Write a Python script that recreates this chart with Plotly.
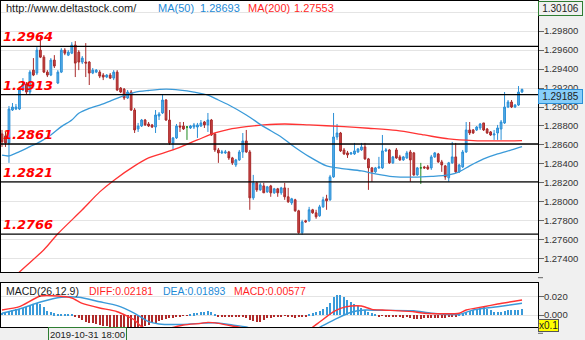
import plotly.graph_objects as go

# ---------------- hourly candles ----------------
opens = [
    1.28716, 1.28695, 1.28621, 1.28968, 1.28979, 1.28979, 1.29179, 1.29242, 1.29158, 1.29389,
    1.29358, 1.29600, 1.29526, 1.29368, 1.29337, 1.29495, 1.29253, 1.29368, 1.29600, 1.29547,
    1.29568, 1.29653, 1.29579, 1.29474, 1.29474, 1.29474, 1.29358, 1.29368, 1.29368, 1.29337,
    1.29316, 1.29337, 1.29305, 1.29368, 1.29200, 1.29189, 1.29095, 1.29158, 1.28968, 1.28768,
    1.28800, 1.28863, 1.28821, 1.28811, 1.28789, 1.28905, 1.28937, 1.29074, 1.28863, 1.28621,
    1.28674, 1.28800, 1.28800, 1.28789, 1.28779, 1.28789, 1.28789, 1.28800, 1.28842, 1.28811,
    1.28863, 1.28716, 1.28547, 1.28516, 1.28516, 1.28526, 1.28463, 1.28389, 1.28442, 1.28526,
    1.28642, 1.28526, 1.28042, 1.28200, 1.28126, 1.28168, 1.28105, 1.28168, 1.28095, 1.28137,
    1.28095, 1.28147, 1.28053, 1.27989, 1.28021, 1.27905, 1.27674, 1.27800, 1.27800, 1.27916,
    1.27884, 1.27853, 1.27947, 1.28032, 1.28021, 1.28263, 1.28684, 1.28726, 1.28547, 1.28516,
    1.28505, 1.28505, 1.28526, 1.28547, 1.28579, 1.28453, 1.28358, 1.28316, 1.28358, 1.28358,
    1.28537, 1.28547, 1.28411, 1.28547, 1.28474, 1.28442, 1.28463, 1.28526, 1.28516, 1.28284,
    1.28358, 1.28368, 1.28368, 1.28358, 1.28474, 1.28505, 1.28421, 1.28379, 1.28253, 1.28411,
    1.28474, 1.28316, 1.28368, 1.28526, 1.28758, 1.28758, 1.28758, 1.28779, 1.28832, 1.28768,
    1.28737, 1.28705, 1.28726, 1.28768, 1.28832, 1.29000, 1.29053, 1.29000, 1.29021, 1.29158,
]
highs = [
    1.28758, 1.28737, 1.29011, 1.29042, 1.29032, 1.29211, 1.29305, 1.29263, 1.29389, 1.29516,
    1.29632, 1.29737, 1.29547, 1.29389, 1.29516, 1.29547, 1.29389, 1.29621, 1.29621, 1.29600,
    1.29684, 1.29695, 1.29600, 1.29537, 1.29674, 1.29484, 1.29411, 1.29400, 1.29389, 1.29358,
    1.29347, 1.29358, 1.29389, 1.29389, 1.29211, 1.29200, 1.29179, 1.29179, 1.28989, 1.28832,
    1.28874, 1.28874, 1.28842, 1.28821, 1.28968, 1.28947, 1.29137, 1.29084, 1.28968, 1.28684,
    1.28821, 1.28842, 1.28842, 1.28800, 1.28811, 1.28832, 1.28832, 1.28863, 1.28853, 1.28937,
    1.28874, 1.28726, 1.28568, 1.28547, 1.28547, 1.28537, 1.28474, 1.28453, 1.28547, 1.28726,
    1.28758, 1.28547, 1.28284, 1.28211, 1.28200, 1.28200, 1.28168, 1.28179, 1.28147, 1.28147,
    1.28158, 1.28200, 1.28147, 1.28042, 1.28032, 1.27916, 1.27811, 1.27811, 1.27947, 1.27926,
    1.27916, 1.27968, 1.28053, 1.28074, 1.28284, 1.28937, 1.28821, 1.28737, 1.28568, 1.28537,
    1.28526, 1.28621, 1.28568, 1.28621, 1.28621, 1.28463, 1.28368, 1.28368, 1.28474, 1.28705,
    1.28568, 1.28558, 1.28484, 1.28568, 1.28495, 1.28484, 1.28537, 1.28547, 1.28526, 1.28368,
    1.28411, 1.28379, 1.28389, 1.28495, 1.28526, 1.28516, 1.28442, 1.28389, 1.28421, 1.28632,
    1.28621, 1.28400, 1.28547, 1.28842, 1.28842, 1.28768, 1.28800, 1.28832, 1.28832, 1.28779,
    1.28747, 1.28758, 1.28811, 1.28863, 1.29158, 1.29074, 1.29074, 1.29032, 1.29221, 1.29195,
]
lows = [
    1.28579, 1.28579, 1.28411, 1.28958, 1.28968, 1.28968, 1.29168, 1.29137, 1.29126, 1.29326,
    1.29337, 1.29516, 1.29358, 1.29316, 1.29326, 1.29411, 1.29242, 1.29358, 1.29547, 1.29537,
    1.29558, 1.29316, 1.29389, 1.29453, 1.29316, 1.29232, 1.29347, 1.29358, 1.29305, 1.29284,
    1.29305, 1.29295, 1.29284, 1.29168, 1.29147, 1.29074, 1.29084, 1.28958, 1.28726, 1.28737,
    1.28789, 1.28800, 1.28789, 1.28779, 1.28726, 1.28863, 1.28926, 1.28853, 1.28600, 1.28547,
    1.28663, 1.28737, 1.28758, 1.28653, 1.28768, 1.28768, 1.28674, 1.28789, 1.28779, 1.28737,
    1.28695, 1.28526, 1.28411, 1.28505, 1.28505, 1.28442, 1.28389, 1.28368, 1.28432, 1.28463,
    1.28516, 1.27916, 1.28021, 1.28105, 1.28116, 1.28095, 1.28095, 1.28053, 1.28084, 1.28053,
    1.28074, 1.28021, 1.27989, 1.27968, 1.27895, 1.27663, 1.27653, 1.27779, 1.27789, 1.27874,
    1.27821, 1.27842, 1.27937, 1.27916, 1.28011, 1.28253, 1.28653, 1.28526, 1.28495, 1.28463,
    1.28495, 1.28495, 1.28516, 1.28537, 1.28442, 1.28126, 1.28211, 1.28305, 1.28347, 1.28347,
    1.28526, 1.28400, 1.28400, 1.28453, 1.28432, 1.28432, 1.28453, 1.28211, 1.28274, 1.28274,
    1.28189, 1.28347, 1.28337, 1.28337, 1.28463, 1.28411, 1.28316, 1.28232, 1.28211, 1.28400,
    1.28305, 1.28305, 1.28358, 1.28516, 1.28705, 1.28716, 1.28747, 1.28758, 1.28747, 1.28716,
    1.28695, 1.28653, 1.28653, 1.28653, 1.28821, 1.28989, 1.28989, 1.28989, 1.29011, 1.29147,
]
closes = [
    1.28632, 1.28621, 1.28979, 1.29000, 1.29000, 1.29179, 1.29242, 1.29158, 1.29368, 1.29337,
    1.29600, 1.29526, 1.29368, 1.29337, 1.29495, 1.29432, 1.29368, 1.29600, 1.29568, 1.29579,
    1.29653, 1.29463, 1.29474, 1.29516, 1.29463, 1.29358, 1.29389, 1.29389, 1.29326, 1.29316,
    1.29337, 1.29305, 1.29368, 1.29179, 1.29158, 1.29095, 1.29158, 1.28968, 1.28758, 1.28800,
    1.28863, 1.28811, 1.28800, 1.28789, 1.28916, 1.28926, 1.29074, 1.28863, 1.28621, 1.28674,
    1.28800, 1.28789, 1.28768, 1.28789, 1.28800, 1.28811, 1.28811, 1.28832, 1.28811, 1.28863,
    1.28705, 1.28547, 1.28516, 1.28526, 1.28526, 1.28463, 1.28411, 1.28442, 1.28526, 1.28642,
    1.28526, 1.28042, 1.28200, 1.28126, 1.28179, 1.28095, 1.28158, 1.28095, 1.28137, 1.28095,
    1.28147, 1.28053, 1.28000, 1.28032, 1.27905, 1.27674, 1.27789, 1.27789, 1.27916, 1.27884,
    1.27842, 1.27947, 1.28021, 1.28011, 1.28263, 1.28684, 1.28726, 1.28537, 1.28505, 1.28495,
    1.28516, 1.28537, 1.28558, 1.28579, 1.28453, 1.28358, 1.28316, 1.28358, 1.28368, 1.28537,
    1.28547, 1.28411, 1.28474, 1.28463, 1.28442, 1.28474, 1.28516, 1.28442, 1.28284, 1.28358,
    1.28358, 1.28358, 1.28347, 1.28474, 1.28516, 1.28421, 1.28389, 1.28263, 1.28411, 1.28474,
    1.28316, 1.28389, 1.28526, 1.28758, 1.28726, 1.28726, 1.28789, 1.28821, 1.28758, 1.28726,
    1.28705, 1.28716, 1.28779, 1.28842, 1.29000, 1.29053, 1.29000, 1.29021, 1.29158, 1.29185,
]

# ---------------- moving averages (value at candle index) ----------------
ma50_at = [0, 2, 5, 8, 11, 14, 17, 20, 22, 25, 28, 31, 34, 38, 42, 47, 51, 55, 59, 62,
           65, 70, 75, 80, 83, 88, 93, 97, 103, 107, 112, 118, 123, 128, 131, 134, 138,
           142, 146, 149]
ma50 = [1.28492, 1.28484, 1.28529, 1.28582, 1.28635, 1.28705, 1.28793, 1.28863, 1.28934,
        1.28986, 1.29021, 1.29063, 1.29108, 1.29155, 1.29174, 1.29189, 1.29179, 1.29158,
        1.29126, 1.29074, 1.29021, 1.28916, 1.28793, 1.28684, 1.28600, 1.28477, 1.28379,
        1.28353, 1.28326, 1.28295, 1.28266, 1.28260, 1.28268, 1.28284, 1.28316, 1.28379,
        1.28453, 1.28505, 1.28547, 1.28582]
ma200_at = [0, 5, 12, 16, 23, 28, 32, 38, 42, 49, 56, 61, 65, 70, 75, 81, 88, 98, 105,
            113, 121, 128, 135, 143, 149]
ma200 = [1.27074, 1.27260, 1.27495, 1.27663, 1.27916, 1.28105, 1.28226, 1.28379, 1.28463,
         1.28547, 1.28653, 1.28726, 1.28765, 1.28793, 1.28811, 1.28821, 1.28811, 1.28793,
         1.28776, 1.28753, 1.28705, 1.28663, 1.28645, 1.28642, 1.28645]

# ---------------- MACD(26,12,9) ----------------
diff_at = [0, 5, 11, 16, 20, 23, 28, 33, 38, 40, 44, 47, 52, 57, 59, 62, 66, 70, 74, 80,
           85, 89, 91, 95, 97, 100, 103, 106, 109, 118, 121, 131, 133, 138, 142, 149]
diff_vals = [0.0055, 0.0091, 0.0208, 0.0208, 0.0186, 0.0128, 0.0077, 0.0036, -0.0055,
             -0.0128, -0.0164, -0.0153, -0.0109, -0.0091, -0.0080, -0.0091, -0.0120,
             -0.0153, -0.0273, -0.0328, -0.0273, -0.0134, -0.0077, 0.0036, 0.0073, 0.0098,
             0.0098, 0.0062, 0.0055, 0.0036, 0.0019, 0.0019, 0.0055, 0.0091, 0.0120, 0.0164]
dea_at = [0, 5, 11, 17, 22, 28, 33, 38, 42, 45, 52, 57, 61, 66, 70, 77, 85, 91, 96, 100,
          104, 109, 118, 123, 131, 135, 142, 149]
dea_vals = [0.0019, 0.0066, 0.0142, 0.0194, 0.0194, 0.0145, 0.0103, 0.0019, -0.0073,
            -0.0098, -0.0102, -0.0091, -0.0084, -0.0109, -0.0131, -0.0219, -0.0251,
            -0.0134, -0.0036, 0.0030, 0.0055, 0.0051, 0.0047, 0.0019, 0.0008, 0.0055,
            0.0091, 0.0128]
macd_hist = [
    0.0025, 0.0030, 0.0044, 0.0055, 0.0062, 0.0062, 0.0073, 0.0091, 0.0109, 0.0117,
    0.0128, 0.0120, 0.0084, 0.0047, 0.0036, 0.0019, 0.0008, 0.0008, 0.0008, 0.0005,
    0.0003, -0.0019, -0.0036, -0.0055, -0.0073, -0.0084, -0.0091, -0.0102, -0.0109, -0.0117,
    -0.0120, -0.0128, -0.0135, -0.0142, -0.0150, -0.0155, -0.0158, -0.0155, -0.0150, -0.0142,
    -0.0132, -0.0120, -0.0109, -0.0091, -0.0084, -0.0066, -0.0055, -0.0047, -0.0036, -0.0030,
    -0.0019, -0.0011, -0.0008, -0.0003, 0.0008, 0.0019, 0.0025, 0.0033, 0.0036, 0.0047,
    0.0036, 0.0008, -0.0011, -0.0016, -0.0016, -0.0022, -0.0022, -0.0019, -0.0016, -0.0022,
    -0.0033, -0.0055, -0.0066, -0.0073, -0.0071, -0.0055, -0.0036, -0.0030, -0.0025, -0.0019,
    -0.0011, -0.0008, -0.0011, -0.0019, -0.0030, -0.0025, -0.0019, -0.0011, 0.0011, 0.0019,
    0.0036, 0.0047, 0.0062, 0.0091, 0.0128, 0.0200, 0.0219, 0.0219, 0.0200, 0.0164,
    0.0145, 0.0120, 0.0098, 0.0073, 0.0055, 0.0036, 0.0019, 0.0008, -0.0019, -0.0005,
    -0.0011, -0.0019, -0.0016, -0.0025, -0.0022, -0.0030, -0.0025, -0.0036, -0.0047, -0.0047,
    -0.0044, -0.0036, -0.0033, -0.0030, -0.0036, -0.0036, -0.0036, -0.0030, -0.0025, -0.0019,
    -0.0011, 0.0005, 0.0019, 0.0036, 0.0047, 0.0055, 0.0066, 0.0077, 0.0084, 0.0071,
    0.0055, 0.0038, 0.0033, 0.0036, 0.0049, 0.0055, 0.0055, 0.0058, 0.0060, 0.0066,
]

# ---------------- levels and axis ticks ----------------
levels = [1.2964, 1.2913, 1.2861, 1.2821, 1.2766]
price_ticks = [1.274, 1.276, 1.278, 1.280, 1.282, 1.284, 1.286, 1.288, 1.290, 1.292,
               1.294, 1.296, 1.298, 1.300]
macd_ticks = [0.0, 0.02]
last_price = closes[-1]
range_high = 1.30106

# ---------------- layout geometry ----------------
W, H = 585, 340
ML, MR, MT, MB = 1, 47, 1, 13
PW, PH = W - ML - MR, H - MT - MB
MAIN_BOTTOM_PX, MACD_TOP_PX = 272, 283
PRICE_RANGE = [1.2726, 1.30118]
MACD_RANGE = [-0.0131, 0.0350]
X_RANGE = [-0.2865, 153.58]

main_dom = [(H - MB - MAIN_BOTTOM_PX) / PH, 1.0]
macd_dom = [0.0, (H - MB - MACD_TOP_PX) / PH]


def px_x(px):
    return (px - ML) / PW


def px_y(py):
    return (H - MB - py) / PH


def val_to_paper(v, rng, dom):
    return dom[0] + (v - rng[0]) / (rng[1] - rng[0]) * (dom[1] - dom[0])


UI_FONT = "Liberation Sans"

idx = list(range(len(opens)))
body_i = [i for i in idx if opens[i] != closes[i]]
doji_i = [i for i in idx if opens[i] == closes[i]]

fig = go.Figure()

fig.add_trace(go.Candlestick(
    x=body_i,
    open=[opens[i] for i in body_i], high=[highs[i] for i in body_i],
    low=[lows[i] for i in body_i], close=[closes[i] for i in body_i],
    increasing=dict(line=dict(color="#2a8fd6", width=1), fillcolor="#5aaee8"),
    decreasing=dict(line=dict(color="#a82a2a", width=1), fillcolor="#c84444"),
    hoverinfo="skip", xaxis="x", yaxis="y", showlegend=False,
))
fig.add_trace(go.Candlestick(
    x=doji_i,
    open=[opens[i] for i in doji_i], high=[highs[i] for i in doji_i],
    low=[lows[i] for i in doji_i], close=[closes[i] for i in doji_i],
    increasing=dict(line=dict(color="#1f8a1f", width=1), fillcolor="#1f8a1f"),
    decreasing=dict(line=dict(color="#1f8a1f", width=1), fillcolor="#1f8a1f"),
    hoverinfo="skip", xaxis="x", yaxis="y", showlegend=False,
))
fig.add_trace(go.Scatter(
    x=ma200_at, y=ma200, mode="lines",
    line=dict(color="#ff3333", width=1.3, shape="spline", smoothing=0.8),
    hoverinfo="skip", xaxis="x", yaxis="y", showlegend=False,
))
fig.add_trace(go.Scatter(
    x=ma50_at, y=ma50, mode="lines",
    line=dict(color="#3a9ad9", width=1.3, shape="spline", smoothing=0.8),
    hoverinfo="skip", xaxis="x", yaxis="y", showlegend=False,
))

# MACD panel
fig.add_trace(go.Bar(
    x=idx, y=macd_hist, width=0.32,
    marker=dict(color=["#3a9ad9" if v >= 0 else "#b02a2a" for v in macd_hist], line=dict(width=0)),
    hoverinfo="skip", xaxis="x2", yaxis="y2", showlegend=False,
))
fig.add_trace(go.Scatter(
    x=dea_at, y=dea_vals, mode="lines",
    line=dict(color="#3a9ad9", width=1.4, shape="spline", smoothing=0.6),
    hoverinfo="skip", xaxis="x2", yaxis="y2", showlegend=False,
))
fig.add_trace(go.Scatter(
    x=diff_at, y=diff_vals, mode="lines",
    line=dict(color="#ff3333", width=1.4, shape="spline", smoothing=0.6),
    hoverinfo="skip", xaxis="x2", yaxis="y2", showlegend=False,
))

shapes = []
for lv in levels:
    shapes.append(dict(type="line", xref="paper", x0=0, x1=1, yref="y", y0=lv, y1=lv,
                       line=dict(color="black", width=1.3), layer="above"))
# tick dashes that fall in the gaps between panels
for v, rng, dom in [(1.272, PRICE_RANGE, main_dom), (-0.02, MACD_RANGE, macd_dom)]:
    yp = val_to_paper(v, rng, dom)
    shapes.append(dict(type="line", xref="paper", x0=1, x1=1 + 5 / PW, yref="paper",
                       y0=yp, y1=yp, line=dict(color="#666", width=1)))

annotations = []
for lv in levels:
    annotations.append(dict(
        text=f"<b><i>{lv:.4f}</i></b>", xref="paper", x=0, xanchor="left",
        yref="y", y=lv, yanchor="bottom", showarrow=False,
        font=dict(family="DejaVu Sans", size=13, color="#ff0000"),
    ))

header = [
    ("http://www.deltastock.com/", 4, "#1a1a1a"),
    ("MA(50)", 156, "#1e8ad6"),
    ("1.28693", 198, "#1e8ad6"),
    ("MA(200)", 246, "#ff1f1f"),
    ("1.27553", 292, "#ff1f1f"),
]
for txt, xp, col in header:
    annotations.append(dict(text=txt, xref="paper", x=px_x(xp), xanchor="left",
                            yref="paper", y=px_y(8), yanchor="middle", showarrow=False,
                            font=dict(family=UI_FONT, size=11, color=col)))

macd_legend = [
    ("MACD(26.12.9)", 4, "#1a1a1a"),
    ("DIFF:0.02181", 87, "#ff1f1f"),
    ("DEA:0.01893", 161, "#1e8ad6"),
    ("MACD:0.00577", 232, "#ff1f1f"),
]
for txt, xp, col in macd_legend:
    annotations.append(dict(text=txt, xref="paper", x=px_x(xp), xanchor="left",
                            yref="paper", y=px_y(290.5), yanchor="middle", showarrow=False,
                            font=dict(family=UI_FONT, size=10.5, color=col)))

annotations += [
    dict(text=f"{range_high:.5f}", xref="paper", x=1, xanchor="left",
         yref="paper", y=px_y(8.7), yanchor="middle", showarrow=False, width=41,
         bgcolor="#f0f0f0", bordercolor="#2e7d32", borderwidth=1, borderpad=1,
         font=dict(family=UI_FONT, size=10, color="#222")),
    dict(text=f"{last_price:.5f}", xref="paper", x=1, xanchor="left",
         yref="y", y=last_price, yanchor="top", showarrow=False, width=41,
         bgcolor="#87cefa", bordercolor="#2a8fd6", borderwidth=1, borderpad=1,
         font=dict(family=UI_FONT, size=10, color="#222")),
    dict(text="x0.1", xref="paper", x=1, xanchor="left",
         yref="y2", y=-0.0117, yanchor="middle", showarrow=False,
         bgcolor="#ffff00", bordercolor="#555", borderwidth=1, borderpad=0,
         font=dict(family=UI_FONT, size=10, color="#222")),
    dict(text="2019-10-31 18:00", xref="paper", x=px_x(87.7), xanchor="center",
         yref="paper", y=px_y(334), yanchor="middle", showarrow=False,
         bgcolor="#f0f0f0", bordercolor="#2e7d32", borderwidth=1, borderpad=1,
         font=dict(family=UI_FONT, size=9.5, color="#222")),
]

# the top tick sits under the range-high box, so its label is left blank
price_ticktext = [f"{t:.5f}" if abs(t - range_high) > 0.0015 else "" for t in price_ticks]

axis_common = dict(showline=True, mirror=True, linecolor="black", linewidth=1,
                   zeroline=False)
fig.update_layout(
    width=W, height=H,
    margin=dict(l=ML, r=MR, t=MT, b=MB),
    paper_bgcolor="#f0f0f0", plot_bgcolor="white",
    boxgap=0.28, bargap=0, hovermode=False, showlegend=False,
    xaxis=dict(domain=[0, 1], range=X_RANGE, anchor="y", showticklabels=False,
               ticks="", showgrid=False, rangeslider=dict(visible=False), **axis_common),
    xaxis2=dict(domain=[0, 1], range=X_RANGE, anchor="y2", matches="x",
                showticklabels=False, ticks="", showgrid=False, **axis_common),
    yaxis=dict(domain=main_dom, range=PRICE_RANGE, side="right", anchor="x",
               tickvals=price_ticks, ticktext=price_ticktext,
               ticks="outside", ticklen=5, tickcolor="#666", ticklabelstandoff=-2,
               tickfont=dict(family=UI_FONT, size=9.5, color="#333"),
               showgrid=True, gridcolor="#e4e4e4", gridwidth=1, **axis_common),
    yaxis2=dict(domain=macd_dom, range=MACD_RANGE, side="right", anchor="x2",
                tickvals=macd_ticks, ticktext=[f"{t:.3f}" for t in macd_ticks],
                ticks="outside", ticklen=5, tickcolor="#666", ticklabelstandoff=-2,
                tickfont=dict(family=UI_FONT, size=9.5, color="#333"),
                showgrid=True, gridcolor="#e4e4e4", gridwidth=1, **axis_common),
    shapes=shapes,
    annotations=annotations,
)

fig.write_html("out.html", config={"displayModeBar": False})
